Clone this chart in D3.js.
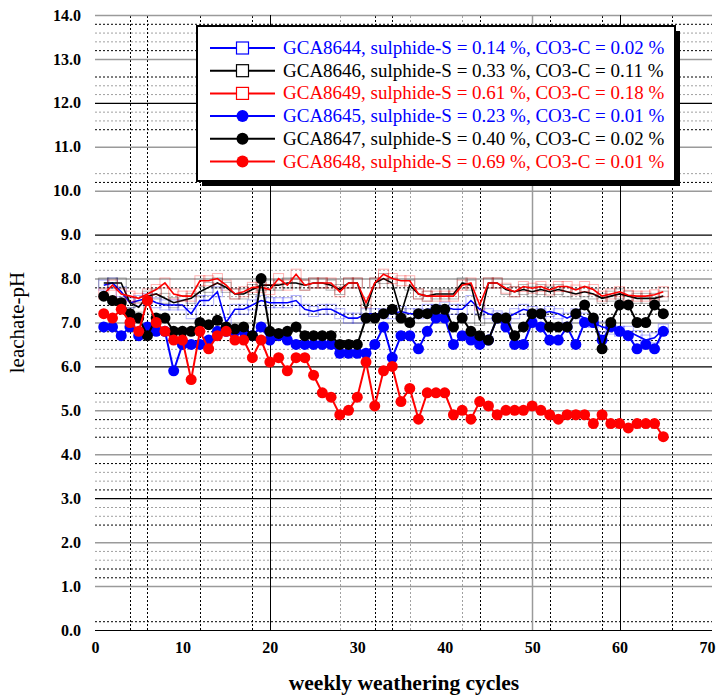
<!DOCTYPE html>
<html><head><meta charset="utf-8">
<script src="https://cdn.jsdelivr.net/npm/d3@7"></script>
<style>
html,body{margin:0;padding:0;background:#fff;}
svg{display:block;}
text{font-family:"Liberation Serif","Times New Roman",serif;}
</style></head>
<body>
<svg id="c" width="718" height="696"></svg>
<script>
// ---------- DATA ----------
const weeks = [1,2,3,4,5,6,7,8,9,10,11,12,13,14,15,16,17,18,19,20,21,22,23,24,25,26,27,28,29,30,
  31,32,33,34,35,36,37,38,39,40,41,42,43,44,45,46,47,48,49,50,51,52,53,54,55,56,57,58,59,60,61,62,63,64,65];

const gca8644 = [7.85,7.9,7.7,7.45,7.5,7.55,7.45,7.4,7.4,7.4,7.2,7.5,7.5,7.7,7.0,7.3,7.3,7.4,7.5,7.45,
  7.45,7.45,7.5,7.3,7.25,7.3,7.3,7.2,7.1,7.1,7.2,7.2,7.2,7.2,7.25,7.2,7.2,7.3,7.3,7.35,
  7.3,7.3,7.5,7.3,7.2,7.15,7.1,7.2,7.3,7.25,7.2,7.25,7.2,7.1,7.2,7.1,7.0,6.9,6.85,6.8,
  6.8,6.7,6.6,6.65,6.85];
const gca8646 = [7.9,7.9,7.9,7.45,7.35,7.6,7.65,7.55,7.45,7.5,7.55,7.7,7.8,7.9,7.8,7.65,7.65,7.75,7.85,7.85,
  7.85,7.9,7.9,7.85,7.9,7.9,7.85,7.75,7.9,7.9,7.3,7.9,8.0,7.9,7.2,7.85,7.65,7.6,7.65,7.65,
  7.65,7.9,7.85,7.05,7.9,7.9,7.75,7.7,7.75,7.7,7.75,7.7,7.75,7.7,7.65,7.7,7.65,7.55,7.6,7.65,
  7.6,7.55,7.55,7.55,7.6];
const gca8649 = [7.65,7.85,7.65,7.6,7.55,7.65,7.75,7.9,7.65,7.6,7.6,7.95,7.95,8.0,7.85,7.65,7.7,7.8,7.8,7.75,
  8.0,7.85,8.1,7.85,7.9,7.9,7.9,7.7,7.9,7.9,7.45,7.9,8.1,8.0,7.95,7.95,7.65,7.6,7.6,7.6,
  7.6,7.85,7.9,7.4,7.9,7.9,7.78,7.7,7.82,7.78,7.82,7.74,7.82,7.82,7.74,7.82,7.75,7.6,7.65,7.7,
  7.62,7.6,7.6,7.63,7.7];
const gca8645 = [6.9,6.9,6.7,6.9,6.7,6.9,6.8,6.8,5.9,6.5,6.5,6.5,6.6,6.8,6.8,6.8,6.8,6.7,6.9,6.6,
  6.7,6.6,6.5,6.5,6.5,6.5,6.5,6.3,6.3,6.3,6.3,6.5,6.9,6.2,6.7,6.7,6.4,6.8,7.1,7.1,
  6.5,6.7,6.6,6.5,6.6,7.1,6.9,6.5,6.5,7.0,6.9,6.6,6.6,6.9,6.5,7.0,7.0,6.6,6.9,6.8,
  6.7,6.4,6.5,6.4,6.8];
const gca8647 = [7.6,7.5,7.45,7.2,7.1,6.7,7.1,7.1,6.8,6.8,6.8,7.0,6.95,7.05,6.9,6.85,6.9,6.7,8.0,6.8,
  6.75,6.8,6.9,6.7,6.7,6.7,6.7,6.5,6.5,6.5,7.1,7.1,7.2,7.3,7.1,7.0,7.2,7.2,7.3,7.3,
  6.9,7.1,6.8,6.7,6.6,7.1,7.1,6.7,6.9,7.2,7.2,6.9,6.9,6.9,7.2,7.4,7.1,6.4,7.0,7.4,
  7.4,7.0,7.0,7.4,7.2];
const gca8648 = [7.2,7.1,7.3,7.0,6.8,7.5,7.0,6.8,6.6,6.6,5.7,6.8,6.4,6.7,6.8,6.6,6.6,6.2,6.6,6.1,
  6.2,5.9,6.2,6.2,5.8,5.4,5.3,4.9,5.0,5.3,6.1,5.1,5.9,6.0,5.2,5.5,4.8,5.4,5.4,5.4,
  4.9,5.0,4.8,5.2,5.1,4.9,5.0,5.0,5.0,5.1,5.0,4.9,4.8,4.9,4.9,4.9,4.7,4.9,4.7,4.7,
  4.6,4.7,4.7,4.7,4.4];

const seriesNames = ["GCA8644","GCA8646","GCA8649","GCA8645","GCA8647","GCA8648"];
const sulphideS = ["0.14","0.33","0.61","0.23","0.40","0.69"];
const co3C = ["0.02","0.11","0.18","0.01","0.02","0.01"];
const seriesValues = [gca8644,gca8646,gca8649,gca8645,gca8647,gca8648];
const seriesColors = ["#0000ff","#000000","#ff0000","#0000ff","#000000","#ff0000"];
const seriesMarker = ["square","square","square","circle","circle","circle"];

const xTicks = [0,10,20,30,40,50,60,70];
const yTicks = [0,1,2,3,4,5,6,7,8,9,10,11,12,13,14];
const xTitle = "weekly weathering cycles";
const yTitle = "leachate-pH";

// gridlines (data units)
const hMajorBlack = [0,3,6,9,12];
const hMajorGray = [1,2,4,5,7,8,10,11,13,14];
const hMinorBlack = [13.8,13.2,12.6,11.4,10.2,8.4,7.8,7.4,7.2,6.8,6.6,5.4,4.8,4.4,3.8,3.2,2.4,1.4,1.2,0.2];
const hMinorGray = [13.6,13.4,12.4,12.2,11.8,11.6,10.4,8.8,8.6,8.2,7.6,6.4,6.2,5.2,4.6,3.6,3.4,2.8,2.6,1.8,1.6];
const vMajorBlack = [20,60];
const vMajorGray = [50];
const vMinorBlack = [4,6,12,18,32,34,44,52,58,66];
const vMinorGray = [28,36,42];

// ---------- CHART ----------
const svg = d3.select("#c");
const x = d3.scaleLinear().domain([0,70]).range([95,707]);
const y = d3.scaleLinear().domain([0,14]).range([630,15]);
const [x0,x1] = x.range();
const [yb,yt] = y.range();

const grid = svg.append("g");
function hl(vals, color, dash, w){
  grid.selectAll(null).data(vals).enter().append("line")
    .attr("x1",x0).attr("x2",x1+5).attr("y1",d=>y(d)+0.5).attr("y2",d=>y(d)+0.5)
    .attr("stroke",color).attr("stroke-width",w).attr("stroke-dasharray",dash);
}
function vl(vals, color, dash, w){
  grid.selectAll(null).data(vals).enter().append("line")
    .attr("y1",yb).attr("y2",yt).attr("x1",d=>Math.round(x(d))+0.5).attr("x2",d=>Math.round(x(d))+0.5)
    .attr("stroke",color).attr("stroke-width",w).attr("stroke-dasharray",dash);
}
hl(hMinorGray,"#a0a0a0","2,2",1);
hl(hMinorBlack,"#000","2,2",1);
vl(vMinorGray,"#a0a0a0","2,2",1);
vl(vMinorBlack,"#000","2,2",1);
hl(hMajorGray,"#9a9a9a",null,1.5);
vl(vMajorGray,"#9a9a9a",null,1.5);
hl(hMajorBlack,"#000",null,1.2);
vl(vMajorBlack,"#000",null,1);

// axes labels
const xAxis = d3.axisBottom(x).tickValues(xTicks).tickFormat(d3.format("d")).tickSize(0).tickPadding(12);
const gx = svg.append("g").attr("transform",`translate(0,${yb})`).call(xAxis);
gx.select(".domain").remove();
gx.selectAll("text").attr("font-size",16).attr("font-weight","bold")
  .attr("font-family","Liberation Serif, serif").attr("fill","#000");

const yAxis = d3.axisLeft(y).tickValues(yTicks).tickFormat(d3.format(".1f")).tickSize(0).tickPadding(14);
const gy = svg.append("g").attr("transform",`translate(${x0},0)`).call(yAxis);
gy.select(".domain").remove();
gy.selectAll("text").attr("font-size",16).attr("font-weight","bold")
  .attr("font-family","Liberation Serif, serif").attr("fill","#000");

svg.append("text").attr("x",(x0+x1)/2+3).attr("y",690).attr("text-anchor","middle")
  .attr("font-size",21.5).attr("font-weight","bold").text(xTitle);
svg.append("text").attr("transform",`translate(24,${(yb+yt)/2}) rotate(-90)`).attr("text-anchor","middle")
  .attr("font-size",21).text(yTitle);

// series
const line = d3.line().x((d,i)=>x(weeks[i])).y(d=>y(d));
const plot = svg.append("g");
seriesValues.forEach((vals,k)=>{
  const col = seriesColors[k];
  const g = plot.append("g");
  if(seriesMarker[k]==="square"){
    g.append("path").attr("d",line(vals)).attr("fill","none").attr("stroke",col).attr("stroke-width",1.6);
    g.selectAll("rect").data(vals).enter().append("rect")
      .attr("x",(d,i)=>x(weeks[i])-5).attr("y",d=>y(d)-5).attr("width",10).attr("height",10)
      .attr("fill","none").attr("stroke",col).attr("stroke-opacity",0.3).attr("stroke-width",1);
  } else {
    g.append("path").attr("d",line(vals)).attr("fill","none").attr("stroke",col).attr("stroke-width",2);
    g.selectAll("circle").data(vals).enter().append("circle")
      .attr("cx",(d,i)=>x(weeks[i])).attr("cy",d=>y(d)).attr("r",5.5).attr("fill",col);
  }
});

// legend
const lg = svg.append("g");
const bx=197, by=26, bw=478, bh=155;
lg.append("rect").attr("x",bx+5).attr("y",by+5).attr("width",bw).attr("height",bh).attr("fill","#000");
lg.append("rect").attr("x",bx).attr("y",by).attr("width",bw).attr("height",bh).attr("fill","#fff")
  .attr("stroke","#000").attr("stroke-width",2);
seriesNames.forEach((n,k)=>{
  const cy = 48 + k*22.7;
  const col = seriesColors[k];
  lg.append("line").attr("x1",210).attr("x2",275).attr("y1",cy).attr("y2",cy).attr("stroke",col).attr("stroke-width",2);
  if(seriesMarker[k]==="square"){
    lg.append("rect").attr("x",236.5).attr("y",cy-6).attr("width",12).attr("height",12)
      .attr("fill","#fff").attr("stroke",col).attr("stroke-width",1.2);
  } else {
    lg.append("circle").attr("cx",242.5).attr("cy",cy).attr("r",6).attr("fill",col);
  }
  lg.append("text").attr("x",283).attr("y",cy+6).attr("font-size",19).attr("fill",col)
    .text(`${n}, sulphide-S = ${sulphideS[k]} %, CO3-C = ${co3C[k]} %`);
});
</script>
</body></html>
